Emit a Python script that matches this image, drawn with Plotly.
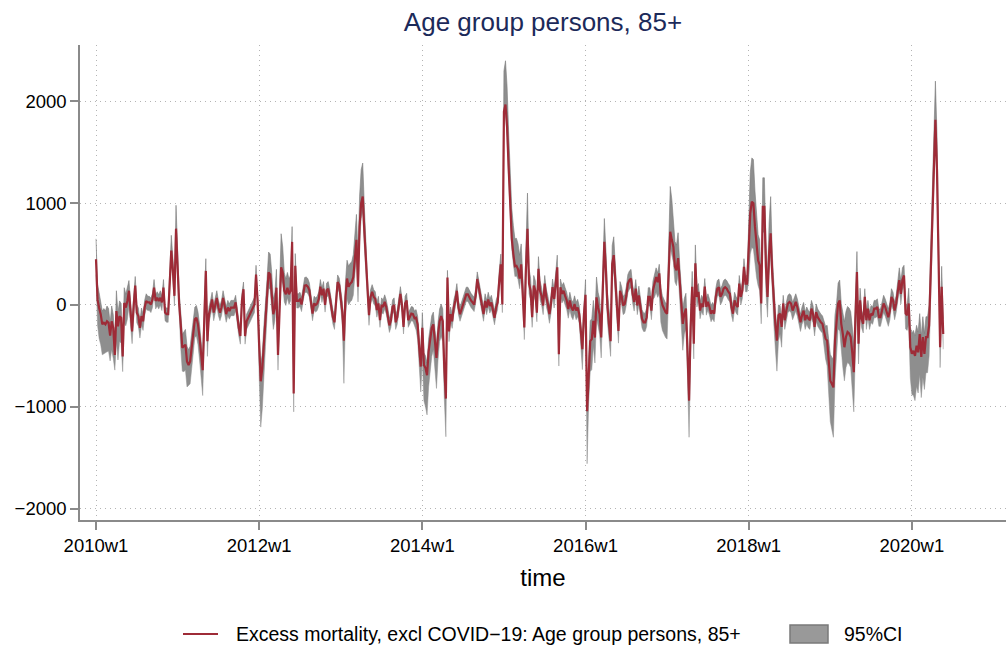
import plotly.graph_objects as go

# ---- data (weekly, week index 0 = 2010w1) ----
exc_2010 = [450, 50, -30, -90, -190, -175, -190, -160, -175, -300,
            -160, -225, -490, -60, -210, -110, -125, -505, 20, -25,
            40, 140, -60, -260, -10, 190, -75, -110, -225, -110,
            -160, -25, 40, 25, 25, 5, 55, 170, 40, 70,
            40, 70, 25, 170, -75, -90, -90, 270, 535, 340,
            90, 750]
exc_2011 = [370, 5, -190, -420, -405, -390, -555, -590, -555, -405,
            -260, -140, -125, -190, -320, -490, -640, -160, 335, -355,
            -90, -25, 55, -75, 5, 70, -25, -75, -25, 70,
            -10, -90, -25, -60, -25, -25, -25, 25, -125, -225,
            -305, 40, 155, -305, -160, -125, -90, -60, -25, 5,
            300, 40]
exc_2012 = [-400, -750, -620, -355, -160, 70, 320, 300, 140, -90,
            -25, 170, -490, 70, 370, 320, 140, 105, 170, 105,
            140, 620, -870, 385, 40, 40, 55, 5, 105, 190,
            195, 180, 145, 45, -85, 15, 0, 15, 60, 180,
            95, 160, 0, 145, 160, 80, -50, -120, -170, 60,
            225, 195]
exc_2013 = [45, -70, -350, 80, 260, 180, 210, 225, 275, 475,
            640, 180, 770, 1000, 1065, 735, 410, 145, -100, 80,
            130, 80, 60, -50, 15, -150, 0, -20, 30, -20,
            -100, -200, -150, -20, 0, -170, -120, 15, 110, 0,
            -215, 15, 45, -150, -120, -85, -90, -130, -125, -190,
            -420, -605]
exc_2014 = [-225, -590, -620, -690, -455, -355, -225, -190, -325, -520,
            -290, -160, -110, -160, -620, -920, 270, -260, -90, -160,
            -25, 40, 140, -25, -90, -40, 5, 55, 105, 105,
            70, 45, 25, 5, 90, 255, 170, 70, -25, -90,
            40, -25, 55, -10, 25, -40, -125, -25, 25, 235,
            400, 5]
exc_2015 = [1900, 1970, 1750, 1350, 930, 650, 500, 380, 385, 350,
            260, 400, 100, -220, 340, 750, 210, 140, -120, 190,
            140, -75, 355, 140, 90, -5, 210, 75, 10, -90,
            10, 175, 60, 240, 370, -485, 175, 110, 140, 90,
            45, -40, 45, -25, -55, 10, -55, -25, -90, -255,
            -435, -90]
exc_2016 = [100, -1045, -615, -355, -335, -155, -320, 75, -25, -90,
            -320, 210, 620, 340, -25, -190, -355, 405, 490, 240,
            -25, -255, 140, 90, -5, 10, 90, 210, 245, 260,
            110, 30, 160, -5, 95, -55, -135, -170, -170, -120,
            80, 80, -55, 145, 225, 275, 225, 310, 80, 0,
            -35, -70]
exc_2017 = [-85, 260, 720, 640, 570, 375, 340, 460, 210, 45,
            -185, -85, -35, -450, -940, -215, 180, -380, 410, 80,
            130, -55, 15, -20, 180, -20, 30, -20, -85, -55,
            -85, 80, 160, 175, 80, 110, 160, 175, 160, 130,
            110, -20, -85, 45, 0, -20, 210, 80, 145, 375,
            210, 210]
exc_2018 = [540, 900, 1015, 1000, 770, 570, 440, 390, 15, 965,
            965, 375, 80, 505, 705, 310, 15, -185, -350, -100,
            -85, -215, 15, -150, -55, 15, 30, 15, -55, -20,
            30, -20, -85, -170, -100, -55, -150, -100, -135, -150,
            -35, -85, -215, -70, -120, -150, -170, -185, -265, -330,
            -350, -530]
exc_2019 = [-745, -775, -810, -350, -185, 15, 45, -185, -285, -415,
            -315, -265, -280, -315, -465, -660, -150, 325, -380, 45,
            -135, -185, 80, -150, -35, -150, -85, -100, -35, -35,
            -20, -120, -120, -55, 15, -20, -85, -120, -55, 80,
            45, -55, 15, 145, 245, 110, 245, 290, -85, -100,
            15, -415]
exc_2020 = [-480, -450, -500, -400, -465, -285, -510, -315, -480, -315,
            -315, -200, 340, 870, 1330, 1820, 1330, 540, -415, 180,
            -285]

# distance of the 95% CI upper bound above the estimate
ci_above_2010 = [200, 150, 150, 130, 130, 140, 130, 150, 140, 120,
                 150, 130, 100, 200, 130, 150, 140, 100, 150, 130,
                 120, 100, 100, 90, 90, 90, 80, 80, 70, 80,
                 70, 70, 70, 60, 60, 60, 60, 80, 60, 60,
                 60, 70, 60, 80, 60, 60, 60, 100, 150, 120,
                 100, 230]
ci_above_2011 = [120, 120, 120, 130, 140, 150, 150, 150, 150, 150,
                 130, 120, 120, 120, 130, 120, 120, 150, 120, 100,
                 70, 70, 70, 70, 70, 70, 70, 70, 70, 70,
                 70, 70, 70, 70, 70, 70, 70, 70, 70, 70,
                 70, 70, 70, 70, 70, 70, 70, 70, 70, 70,
                 90, 80]
ci_above_2012 = [150, 150, 150, 150, 150, 180, 200, 200, 180, 150,
                 150, 180, 120, 180, 330, 250, 180, 150, 150, 150,
                 150, 150, 100, 120, 70, 70, 70, 70, 70, 80,
                 80, 80, 70, 70, 70, 70, 70, 70, 70, 70,
                 70, 70, 70, 70, 70, 70, 70, 70, 70, 70,
                 70, 70]
ci_above_2013 = [80, 100, 150, 150, 180, 200, 200, 200, 220, 220,
                 250, 300, 300, 330, 330, 250, 150, 120, 100, 70,
                 70, 70, 70, 70, 70, 70, 70, 70, 70, 70,
                 70, 70, 70, 70, 70, 70, 70, 70, 70, 70,
                 70, 70, 70, 70, 70, 70, 70, 70, 80, 80,
                 100, 100]
ci_above_2014 = [150, 120, 120, 120, 120, 120, 120, 120, 120, 120,
                 120, 120, 120, 120, 120, 100, 70, 80, 70, 70,
                 70, 70, 70, 70, 70, 70, 70, 70, 70, 70,
                 70, 70, 70, 70, 70, 70, 70, 70, 70, 70,
                 70, 70, 70, 70, 70, 70, 70, 70, 70, 100,
                 100, 100]
ci_above_2015 = [400, 430, 400, 350, 300, 300, 280, 270, 270, 250,
                 230, 200, 180, 150, 200, 350, 150, 120, 100, 100,
                 100, 100, 120, 100, 80, 80, 80, 80, 80, 80,
                 80, 80, 80, 100, 120, 100, 80, 80, 80, 80,
                 80, 80, 80, 80, 80, 80, 80, 80, 80, 80,
                 80, 80]
ci_above_2016 = [150, 150, 150, 200, 200, 200, 200, 200, 150, 150,
                 150, 150, 230, 200, 150, 150, 150, 180, 180, 150,
                 120, 100, 90, 90, 90, 90, 90, 90, 90, 90,
                 90, 90, 90, 90, 90, 90, 90, 90, 90, 90,
                 90, 90, 90, 90, 90, 90, 90, 90, 90, 90,
                 90, 90]
ci_above_2017 = [100, 250, 445, 400, 300, 250, 250, 250, 200, 150,
                 150, 150, 150, 150, 200, 150, 150, 150, 180, 100,
                 80, 80, 80, 80, 80, 80, 80, 80, 80, 80,
                 80, 80, 80, 80, 80, 80, 80, 80, 80, 80,
                 80, 80, 80, 80, 80, 80, 80, 80, 80, 80,
                 80, 80]
ci_above_2018 = [300, 400, 430, 430, 350, 300, 250, 250, 200, 285,
                 285, 250, 200, 300, 360, 200, 150, 120, 120, 100,
                 80, 80, 80, 80, 80, 80, 80, 80, 80, 80,
                 80, 80, 80, 80, 80, 80, 80, 80, 80, 80,
                 80, 80, 80, 80, 80, 80, 80, 80, 100, 120,
                 150, 200]
ci_above_2019 = [260, 260, 280, 250, 200, 200, 200, 200, 200, 250,
                 250, 250, 250, 250, 250, 250, 200, 200, 150, 120,
                 80, 80, 80, 80, 80, 80, 80, 80, 80, 80,
                 80, 80, 80, 80, 80, 80, 80, 80, 80, 80,
                 80, 80, 80, 120, 120, 120, 120, 100, 100, 100,
                 150, 200]
ci_above_2020 = [200, 200, 200, 200, 200, 200, 200, 200, 200, 200,
                 200, 200, 250, 300, 350, 380, 350, 250, 200, 200,
                 150]

# distance of the 95% CI lower bound below the estimate
ci_below_2010 = [150, 250, 300, 300, 300, 300, 280, 300, 280, 250,
                 280, 300, 150, 300, 330, 250, 250, 150, 200, 180,
                 180, 150, 150, 120, 120, 100, 100, 100, 100, 90,
                 90, 80, 80, 80, 80, 80, 80, 70, 80, 80,
                 80, 70, 80, 70, 80, 80, 80, 80, 100, 100,
                 100, 120]
ci_below_2011 = [150, 200, 230, 230, 250, 250, 250, 200, 220, 220,
                 200, 180, 180, 200, 220, 250, 250, 200, 150, 150,
                 80, 80, 80, 80, 80, 80, 80, 80, 80, 80,
                 80, 80, 80, 80, 80, 80, 80, 80, 80, 80,
                 80, 80, 80, 80, 80, 80, 80, 80, 80, 80,
                 80, 100]
ci_below_2012 = [300, 450, 400, 300, 250, 180, 150, 150, 150, 150,
                 130, 120, 150, 120, 120, 120, 110, 110, 100, 100,
                 100, 100, 180, 100, 70, 70, 70, 70, 70, 70,
                 70, 70, 70, 70, 70, 70, 70, 70, 70, 70,
                 70, 70, 70, 70, 70, 70, 70, 70, 70, 70,
                 70, 70]
ci_below_2013 = [80, 120, 420, 200, 200, 180, 180, 180, 180, 150,
                 150, 150, 150, 150, 150, 150, 120, 100, 100, 70,
                 70, 70, 70, 70, 70, 70, 70, 70, 70, 70,
                 70, 70, 70, 70, 70, 70, 70, 70, 70, 70,
                 70, 70, 70, 70, 70, 70, 70, 70, 120, 150,
                 200, 250]
ci_below_2014 = [300, 350, 380, 390, 350, 300, 280, 250, 300, 300,
                 250, 200, 200, 200, 300, 375, 100, 100, 70, 70,
                 70, 70, 70, 70, 70, 70, 70, 70, 70, 70,
                 70, 70, 70, 70, 70, 70, 70, 70, 70, 70,
                 70, 70, 70, 70, 70, 70, 70, 70, 70, 80,
                 80, 80]
ci_below_2015 = [100, 80, 100, 100, 100, 100, 100, 100, 100, 100,
                 100, 100, 100, 120, 100, 100, 100, 100, 100, 100,
                 100, 90, 90, 90, 90, 90, 90, 90, 90, 90,
                 90, 90, 90, 90, 90, 115, 90, 90, 90, 90,
                 90, 90, 90, 90, 90, 90, 90, 90, 90, 150,
                 200, 150]
ci_below_2016 = [200, 515, 350, 300, 300, 250, 250, 200, 200, 200,
                 200, 150, 150, 150, 150, 150, 150, 150, 150, 150,
                 120, 120, 90, 90, 90, 90, 90, 90, 90, 90,
                 90, 90, 90, 90, 90, 90, 90, 90, 90, 90,
                 90, 90, 90, 90, 150, 150, 150, 200, 250, 250,
                 250, 250]
ci_below_2017 = [250, 150, 150, 150, 150, 150, 150, 150, 150, 200,
                 260, 200, 200, 250, 360, 250, 150, 150, 120, 100,
                 80, 80, 80, 80, 80, 80, 80, 80, 80, 80,
                 80, 80, 80, 80, 80, 80, 80, 80, 80, 80,
                 80, 80, 80, 80, 80, 80, 80, 80, 80, 80,
                 80, 80]
ci_below_2018 = [300, 400, 450, 450, 400, 300, 250, 250, 200, 250,
                 250, 250, 200, 200, 200, 200, 200, 250, 300, 250,
                 200, 200, 90, 90, 90, 90, 90, 90, 90, 90,
                 90, 90, 90, 90, 90, 90, 90, 90, 90, 90,
                 90, 90, 90, 90, 90, 90, 90, 90, 150, 200,
                 250, 350]
ci_below_2019 = [400, 450, 490, 400, 300, 250, 300, 300, 330, 330,
                 300, 300, 300, 300, 350, 390, 300, 200, 200, 150,
                 90, 90, 90, 90, 90, 90, 90, 90, 90, 90,
                 90, 90, 90, 90, 90, 90, 90, 90, 90, 90,
                 90, 90, 90, 100, 100, 100, 100, 100, 150, 150,
                 200, 300]
ci_below_2020 = [400, 440, 440, 400, 400, 400, 400, 400, 350, 350,
                 350, 300, 200, 150, 150, 150, 150, 150, 200, 150,
                 150]

tick_weeks = [0, 104, 208, 312, 416, 520]
tick_labels = ["2010w1", "2012w1", "2014w1", "2016w1", "2018w1", "2020w1"]
y_ticks = [-2000, -1000, 0, 1000, 2000]
line_name = "Excess mortality, excl COVID\u221219: Age group persons, 85+"
ci_name = "95%CI"

excess = (exc_2010 + exc_2011 + exc_2012 + exc_2013 + exc_2014 + exc_2015
          + exc_2016 + exc_2017 + exc_2018 + exc_2019 + exc_2020)
ci_above = (ci_above_2010 + ci_above_2011 + ci_above_2012 + ci_above_2013
            + ci_above_2014 + ci_above_2015 + ci_above_2016 + ci_above_2017
            + ci_above_2018 + ci_above_2019 + ci_above_2020)
ci_below = (ci_below_2010 + ci_below_2011 + ci_below_2012 + ci_below_2013
            + ci_below_2014 + ci_below_2015 + ci_below_2016 + ci_below_2017
            + ci_below_2018 + ci_below_2019 + ci_below_2020)
n = min(len(excess), len(ci_above), len(ci_below))
weeks = list(range(n))
ci_hi = [excess[i] + ci_above[i] for i in range(n)]
ci_lo = [excess[i] - ci_below[i] for i in range(n)]

FONT = "Liberation Sans, Arial, Helvetica, sans-serif"
RED = "#9e2b37"
GRAY = "#8e8e8e"
GRID = "#b4b4b4"
AXIS = "#8a8a8a"

W, H = 1006, 650
ML, MR, MT, MB = 80, 0, 45, 130


def px_x(p):
    return (p - ML) / (W - ML - MR)


def px_y(p):
    return (H - MB - p) / (H - MT - MB)


fig = go.Figure()
fig.add_trace(go.Scatter(x=weeks, y=ci_lo, mode="lines",
                         line=dict(color=GRAY, width=0.5),
                         showlegend=False, hoverinfo="skip"))
fig.add_trace(go.Scatter(x=weeks, y=ci_hi, mode="lines", fill="tonexty",
                         fillcolor=GRAY, line=dict(color="#7a7a7a", width=0.6),
                         name=ci_name, showlegend=False))
fig.add_trace(go.Scatter(x=weeks, y=excess[:n], mode="lines",
                         line=dict(color=RED, width=2.2),
                         name=line_name, showlegend=False))

# legend drawn below the plot (line sample + filled box)
leg_y = 634
fig.add_shape(type="line", xref="paper", yref="paper",
              x0=px_x(183), x1=px_x(218), y0=px_y(leg_y), y1=px_y(leg_y),
              line=dict(color=RED, width=2))
fig.add_shape(type="rect", xref="paper", yref="paper",
              x0=px_x(790), x1=px_x(828), y0=px_y(leg_y - 9), y1=px_y(leg_y + 9),
              fillcolor="#999999", line=dict(color="#7a7a7a", width=1.5))
fig.add_annotation(text=line_name, xref="paper", yref="paper",
                   x=px_x(234), y=px_y(leg_y), xanchor="left", yanchor="middle",
                   showarrow=False, font=dict(family=FONT, size=19.5, color="black"))
fig.add_annotation(text=ci_name, xref="paper", yref="paper",
                   x=px_x(842), y=px_y(leg_y), xanchor="left", yanchor="middle",
                   showarrow=False, font=dict(family=FONT, size=19.5, color="black"))

fig.update_layout(
    width=W, height=H,
    margin=dict(l=ML, r=MR, t=MT, b=MB, autoexpand=False),
    paper_bgcolor="white", plot_bgcolor="white",
    font=dict(family=FONT, size=18, color="black"),
    title=dict(text="Age group persons, 85+", x=0.5, xref="paper",
               y=1 - 22 / 650, yref="container", yanchor="middle",
               font=dict(family=FONT, size=26, color="#1c2a5a")),
    showlegend=False,
)
fig.update_xaxes(range=[-10.2, 580], tickmode="array", tickvals=tick_weeks,
                 ticktext=tick_labels, showline=True, linecolor=AXIS,
                 linewidth=1.5, ticks="outside", ticklen=8, tickcolor=AXIS,
                 tickwidth=1.5, showgrid=True, gridcolor=GRID, griddash="1px,4px",
                 gridwidth=1, zeroline=False, mirror=False, automargin=False,
                 tickfont=dict(size=18.5),
                 title=dict(text="time", font=dict(size=24), standoff=14))
fig.update_yaxes(range=[-2113, 2555], tickmode="array", tickvals=y_ticks,
                 showline=True, linecolor=AXIS, linewidth=1.5,
                 ticks="outside", ticklen=8, tickcolor=AXIS, tickwidth=1.5,
                 showgrid=True, gridcolor=GRID, griddash="1px,4px", gridwidth=1,
                 zeroline=False, mirror=False, automargin=False,
                 tickfont=dict(size=18.5))

fig.write_html("out.html",
               config={"displayModeBar": False},
               post_script="document.body.style.margin='0px';"
                           "document.body.style.overflow='hidden';")
